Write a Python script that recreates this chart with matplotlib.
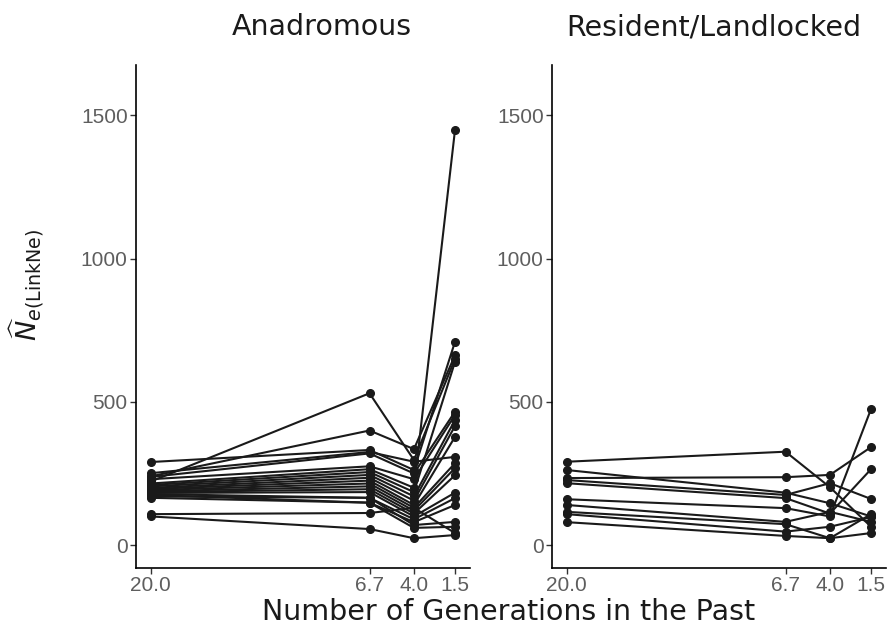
import matplotlib
matplotlib.use("Agg")
import matplotlib.pyplot as plt

generations = [20.0, 6.7, 4.0, 1.5]
tick_labels = ["20.0", "6.7", "4.0", "1.5"]

# Anadromous populations: Ne at each generation (20.0, 6.7, 4.0, 1.5)
anadromous = [
    [290, 332, 262, 710],
    [222, 530, 297, 650],
    [240, 400, 335, 663],
    [251, 325, 291, 308],
    [238, 320, 250, 466],
    [230, 275, 230, 454],
    [215, 265, 200, 1450],
    [210, 255, 185, 640],
    [205, 245, 170, 437],
    [200, 235, 155, 416],
    [196, 225, 140, 378],
    [192, 215, 130, 286],
    [188, 205, 120, 269],
    [185, 195, 110, 244],
    [182, 185, 100, 183],
    [178, 165, 90, 164],
    [175, 148, 80, 140],
    [170, 165, 70, 81],
    [165, 148, 60, 64],
    [108, 112, 130, 42],
    [100, 56, 24, 35],
]

# Resident/Landlocked populations
resident = [
    [291, 326, 202, 64],
    [262, 183, 146, 100],
    [234, 237, 245, 342],
    [227, 175, 216, 161],
    [216, 164, 110, 265],
    [160, 129, 100, 475],
    [140, 81, 116, 81],
    [116, 73, 24, 108],
    [108, 47, 64, 98],
    [80, 32, 24, 42],
]

panels = [("Anadromous", anadromous, 322), ("Resident/Landlocked", resident, 714)]

W, H = 888, 627
fig = plt.figure(figsize=(W / 100, H / 100), dpi=100)
ax_pos = [
    [136 / W, 1 - 568 / H, (470 - 136) / W, (568 - 65) / H],
    [552 / W, 1 - 568 / H, (886 - 552) / W, (568 - 65) / H],
]

line_color = "#1a1a1a"
tick_color = "#5e5e5e"

for i, (title, data, tx) in enumerate(panels):
    ax = fig.add_axes(ax_pos[i])
    for series in data:
        ax.plot(generations, series, color=line_color, lw=1.5, marker="o",
                markersize=5.5, solid_joinstyle="round")
    ax.set_xlim(20.9, 0.59)
    ax.set_ylim(-80, 1676)
    ax.set_xticks(generations)
    ax.set_xticklabels(tick_labels)
    ax.set_yticks([0, 500, 1000, 1500])
    ax.tick_params(axis="both", colors=tick_color, labelsize=15, length=4,
                   width=1, pad=2)
    ax.tick_params(axis="both", color="#333333")
    for lab in ax.get_xticklabels() + ax.get_yticklabels():
        lab.set_fontfamily("Liberation Sans")
    for s in ["top", "right"]:
        ax.spines[s].set_visible(False)
    for s in ["left", "bottom"]:
        ax.spines[s].set_color("black")
        ax.spines[s].set_linewidth(1.2)
    fig.text(tx / W, 1 - 27 / H, title, ha="center", va="center",
             fontsize=20.5, color="#1a1a1a")

fig.text(509 / W, 1 - 612 / H, "Number of Generations in the Past",
         ha="center", va="center", fontsize=20.5, color="#1a1a1a")
fig.text(27 / W, 1 - 285 / H, r"$\widehat{N}_{e(\mathrm{LinkNe})}$",
         rotation=90, ha="center", va="center", fontsize=19.5, color="#1a1a1a")

fig.savefig("out.png", dpi=100, facecolor="white")
